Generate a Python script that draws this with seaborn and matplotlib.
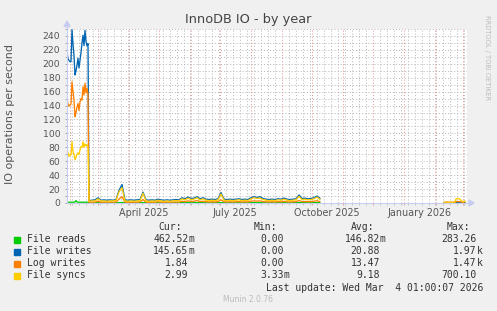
import numpy as np
import pandas as pd
import matplotlib
matplotlib.use("Agg")
import matplotlib.pyplot as plt
import matplotlib.dates as mdates
import matplotlib.transforms as mtransforms
from matplotlib.patches import Rectangle, Polygon
from matplotlib.lines import Line2D
from matplotlib.ticker import MultipleLocator, NullFormatter
import seaborn as sns

W, H = 497, 311

series_names = ["File reads", "File writes", "Log writes", "File syncs"]
series_colors = ["#00CC00", "#0066B3", "#FF8000", "#FFCC00"]

# ---- segment 1: daily values, Jan 29 - Feb 19 2025 ----
seg1_dates = pd.date_range("2025-01-29", "2025-02-19", freq="D")
reads_1 = [1.2, 1.0, 1.1, 1.3, 1.0, 1.2, 1.1, 1.0, 1.4, 3.5, 1.6, 1.1,
           1.0, 1.2, 1.1, 1.0, 1.3, 1.1, 1.0, 1.2, 1.1, 1.0]
writes_1 = [218, 207, 205, 203, 203, 249, 228, 212, 184, 190, 198, 208,
            194, 205, 216, 230, 241, 226, 248, 232, 226, 229]
log_1 = [150, 142, 139, 141, 142, 174, 160, 148, 124, 130, 138, 143,
         133, 145, 150, 148, 167, 155, 172, 158, 165, 157]
syncs_1 = [78, 72, 67, 70, 69, 88, 74, 70, 62, 66, 70, 72,
           70, 76, 81, 80, 88, 80, 85, 82, 84, 80]

# ---- segment 2: every 3 days, Feb 20 - Oct 9 2025 ----
seg2_dates = pd.date_range("2025-02-20", "2025-10-09", freq="3D")
reads_2 = [0.3, 0.4, 0.3, 0.5, 0.3, 0.4, 0.3, 0.3, 0.4, 0.3, 0.6, 0.8, 0.3,
           0.3, 0.4, 0.3, 0.3, 0.4, 0.6, 0.3, 0.3, 0.4, 0.3, 0.4, 0.3, 0.3,
           0.4, 0.3, 0.3, 0.4, 0.3, 0.5, 0.4, 0.5, 0.4, 0.4, 0.5, 0.4, 0.4,
           0.3, 0.3, 0.4, 0.3, 0.4, 0.6, 0.3, 0.3, 0.4, 0.3, 0.4, 0.4, 0.3,
           0.4, 0.3, 0.4, 0.5, 0.4, 0.5, 0.4, 0.3, 0.3, 0.4, 0.3, 0.4, 0.3,
           0.4, 0.3, 0.3, 0.4, 0.4, 0.5, 0.4, 0.4, 0.3, 0.4, 0.4, 0.5, 0.4]
writes_2 = [3.5, 4.0, 4.5, 7.5, 4.0, 4.5, 4.0, 4.5, 4.0, 5.0, 18.0, 26.5, 4.5,
            4.0, 4.5, 4.0, 4.5, 5.0, 15.5, 4.5, 4.0, 4.5, 4.0, 5.5, 4.5, 4.0,
            4.5, 4.0, 4.5, 5.0, 4.5, 7.5, 6.0, 8.5, 6.5, 7.0, 9.0, 6.0, 7.5,
            5.5, 5.0, 5.5, 5.0, 6.0, 15.0, 5.5, 5.0, 5.5, 5.0, 5.5, 6.0, 5.0,
            5.5, 5.0, 7.5, 9.0, 8.0, 9.0, 6.5, 5.5, 5.0, 5.5, 5.0, 6.0, 5.5,
            7.0, 5.5, 5.0, 5.5, 6.0, 11.5, 6.5, 7.0, 6.0, 6.5, 7.5, 10.0, 6.5]
log_2 = [1.0, 1.2, 1.3, 2.5, 1.2, 1.3, 1.1, 1.3, 1.2, 1.5, 5.5, 9.0, 1.3,
         1.1, 1.2, 1.1, 1.3, 1.5, 5.0, 1.2, 1.1, 1.3, 1.1, 1.8, 1.3, 1.1,
         1.3, 1.1, 1.3, 1.5, 1.3, 2.5, 2.0, 3.0, 2.2, 2.5, 3.5, 2.0, 2.5,
         1.8, 1.5, 1.7, 1.5, 2.0, 4.5, 1.8, 1.5, 1.7, 1.5, 1.7, 2.0, 1.5,
         1.7, 1.5, 2.5, 3.0, 2.7, 3.0, 2.0, 1.7, 1.5, 1.7, 1.5, 2.0, 1.7,
         2.3, 1.7, 1.5, 1.7, 2.0, 3.5, 2.0, 2.2, 1.8, 2.0, 2.5, 3.2, 2.0]
syncs_2 = [2.5, 3.0, 3.0, 6.0, 3.0, 3.0, 2.5, 3.0, 3.0, 4.0, 16.0, 22.0, 3.0,
           2.5, 3.0, 2.5, 3.0, 3.5, 14.0, 3.0, 2.5, 3.0, 2.5, 4.0, 3.0, 2.5,
           3.0, 2.5, 3.0, 3.5, 3.0, 6.0, 4.5, 7.0, 5.0, 5.5, 7.5, 4.5, 6.0,
           4.0, 3.5, 4.0, 3.5, 4.5, 13.0, 4.0, 3.5, 4.0, 3.5, 4.0, 4.5, 3.5,
           4.0, 3.5, 6.0, 7.5, 6.5, 7.0, 5.0, 4.0, 3.5, 4.0, 3.5, 4.5, 4.0,
           5.5, 4.0, 3.5, 4.0, 4.5, 9.5, 5.0, 5.5, 4.5, 5.0, 6.0, 8.5, 5.0]

# ---- segment 3: after the gap, Feb - Mar 2026 ----
seg3_dates = pd.to_datetime(["2026-02-10", "2026-02-13", "2026-02-16", "2026-02-19",
                             "2026-02-21", "2026-02-22", "2026-02-24", "2026-02-26",
                             "2026-02-27", "2026-03-01", "2026-03-03"])
reads_3 = [0.3, 0.3, 0.4, 0.3, 0.3, 0.5, 0.4, 0.4, 0.3, 0.3, 0.46]
writes_3 = [0.6, 0.8, 0.6, 0.7, 0.8, 1.5, 1.2, 1.0, 0.8, 0.5, 0.15]
log_3 = [0.8, 1.0, 0.9, 1.0, 1.2, 2.0, 2.2, 1.8, 1.5, 1.0, 1.84]
syncs_3 = [1.0, 1.2, 1.0, 1.1, 1.5, 6.0, 6.5, 5.5, 4.0, 1.5, 3.0]

# ---- axis/legend text ----
y_ticks = list(range(0, 241, 20))
x_label_dates = ["2025-04-16", "2025-07-16", "2025-10-16", "2026-01-16"]
x_label_texts = ["April 2025", "July 2025", "October 2025", "January 2026"]
cur_vals = ["462.52m", "145.65m", "1.84", "2.99"]
min_vals = ["0.00", "0.00", "0.00", "3.33m"]
avg_vals = ["146.82m", "20.88", "13.47", "9.18"]
max_vals = ["283.26", "1.97k", "1.47k", "700.10"]

# ---- build long table ----
frames = []
segs = [
    (1, seg1_dates, [reads_1, writes_1, log_1, syncs_1]),
    (1, seg2_dates, [reads_2, writes_2, log_2, syncs_2]),
    (2, seg3_dates, [reads_3, writes_3, log_3, syncs_3]),
]
for seg_id, dts, vals in segs:
    for name, v in zip(series_names, vals):
        frames.append(pd.DataFrame({"date": dts, "value": v, "series": name, "seg": seg_id}))
df = pd.concat(frames, ignore_index=True)

sns.set_style("white")
plt.rcParams["font.family"] = ["DejaVu Sans"]

fig = plt.figure(figsize=(W / 100, H / 100), dpi=100, facecolor="#F0F0F0")


def fx(x):
    return x / W


def fy(y):
    return 1 - y / H


ax_l, ax_r, ax_t, ax_b = 67, 467, 29, 203
ax = fig.add_axes([fx(ax_l), fy(ax_b), (ax_r - ax_l) / W, (ax_b - ax_t) / H])
ax.set_facecolor("white")

sns.lineplot(data=df, x="date", y="value", hue="series", units="seg", estimator=None,
             hue_order=series_names, palette=dict(zip(series_names, series_colors)),
             legend=False, linewidth=0.95, sort=True, ax=ax)

x0 = pd.Timestamp("2025-01-29")
x1 = pd.Timestamp("2026-03-05")
ax.set_xlim(x0, x1)
ax.set_ylim(0, 250)
ax.set_xlabel("")
ax.set_ylabel("")

# grid
ax.set_axisbelow(True)
ax.xaxis.set_major_locator(mdates.MonthLocator())
ax.xaxis.set_minor_locator(mdates.WeekdayLocator(byweekday=mdates.MO))
ax.xaxis.set_major_formatter(NullFormatter())
ax.xaxis.set_minor_formatter(NullFormatter())
ax.yaxis.set_major_locator(MultipleLocator(20))
ax.yaxis.set_minor_locator(MultipleLocator(10))
ax.set_yticks(y_ticks)
ax.set_yticklabels([str(t) for t in y_ticks])
ax.grid(which="minor", axis="both", color="#B8B8B8", linewidth=0.65, linestyle=(0, (1.2, 2.2)))
ax.grid(which="major", axis="y", color="#B8B8B8", linewidth=0.65, linestyle=(0, (1.2, 2.2)))
ax.grid(which="major", axis="x", color="#E69090", linewidth=0.65, linestyle=(0, (1.2, 2.2)))

ax.tick_params(axis="y", which="both", length=1.5, width=0.6, color="#999999",
               labelsize=6.7, labelcolor="#555555", pad=3.4, left=True)
ax.tick_params(axis="x", which="major", length=1.5, width=0.6, color="#E69090", bottom=True)
ax.tick_params(axis="x", which="minor", length=1.5, width=0.6, color="#BBBBBB", bottom=True)

for s in ax.spines.values():
    s.set_visible(False)

# month labels
btf = mtransforms.blended_transform_factory(ax.transData, fig.transFigure)
for d, t in zip(x_label_dates, x_label_texts):
    ax.text(mdates.date2num(pd.Timestamp(d)), fy(213), t, transform=btf, ha="center",
            va="center", fontsize=6.9, color="#555555")

# axis lines and arrows
axis_col = "#C6CCF2"
fig.add_artist(Line2D([fx(ax_l), fx(ax_l)], [fy(ax_b), fy(25)], color=axis_col, lw=0.8))
fig.add_artist(Line2D([fx(ax_l), fx(470)], [fy(ax_b), fy(ax_b)], color=axis_col, lw=0.8))
fig.add_artist(Polygon([[fx(64), fy(26.5)], [fx(70), fy(26.5)], [fx(67), fy(21)]],
                       closed=True, color=axis_col, transform=fig.transFigure))
fig.add_artist(Polygon([[fx(469), fy(200)], [fx(469), fy(206)], [fx(474), fy(203)]],
                       closed=True, color=axis_col, transform=fig.transFigure))

# titles
fig.text(fx(248), fy(19), "InnoDB IO - by year", ha="center", va="center",
         fontsize=9.3, color="#444444")
fig.text(fx(10), fy(114), "IO operations per second", rotation=90, ha="center",
         va="center", fontsize=8, color="#555555")
fig.text(fx(487), fy(58), "RRDTOOL / TOBI OETIKER", rotation=270, ha="center",
         va="center", fontsize=4.8, color="#BBBBBB")

# legend
mono = "DejaVu Sans Mono"
tcol = "#333333"
fs = 7
headers = ["Cur:", "Min:", "Avg:", "Max:"]
header_right = [182, 277, 374, 470]
num_right = [188.3, 284, 380, 476.7]
for h, xr in zip(headers, header_right):
    fig.text(fx(xr), fy(227), h, ha="right", va="center", family=mono, fontsize=fs, color=tcol)

row_y = [239.5, 251.5, 263.5, 275.5]
columns = [cur_vals, min_vals, avg_vals, max_vals]
for i, (name, col) in enumerate(zip(series_names, series_colors)):
    y = row_y[i]
    fig.add_artist(Rectangle((fx(14), fy(y + 3)), 6 / W, 6 / H, color=col,
                             transform=fig.transFigure))
    fig.text(fx(27), fy(y), name, ha="left", va="center", family=mono, fontsize=fs, color=tcol)
    for vals, xr in zip(columns, num_right):
        v = vals[i]
        if v[-1].isalpha():
            num, sfx = v[:-1], v[-1]
        else:
            num, sfx = v, ""
        fig.text(fx(xr), fy(y), num, ha="right", va="center", family=mono, fontsize=fs, color=tcol)
        if sfx:
            fig.text(fx(xr), fy(y), sfx, ha="left", va="center", family=mono, fontsize=fs, color=tcol)

fig.text(fx(483), fy(288), "Last update: Wed Mar  4 01:00:07 2026", ha="right", va="center",
         family=mono, fontsize=fs, color=tcol)
fig.text(fx(248), fy(300), "Munin 2.0.76", ha="center", va="center", fontsize=5.5, color="#BBBBBB")

fig.savefig("out.png", dpi=100, facecolor=fig.get_facecolor())
